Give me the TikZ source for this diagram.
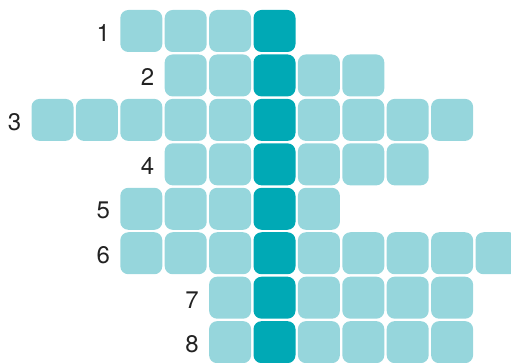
\documentclass[tikz,border=0pt]{standalone}
\usepackage{fontspec}
\setmainfont{TeX Gyre Heros}
\usetikzlibrary{positioning}
\definecolor{celllight}{RGB}{150,214,220}
\definecolor{celldark}{RGB}{0,169,181}
\definecolor{numgray}{RGB}{34,34,34}

\begin{document}
\begin{tikzpicture}[
      x=1pt, y=-1pt,
      cell/.style={rectangle, rounded corners=8pt, fill=celllight, minimum size=42pt, inner sep=0pt},
      key/.style={cell, fill=celldark},
      num/.style={font=\fontsize{24}{26}\selectfont, text=numgray, inner sep=0pt}
    ]
      \useasboundingbox (0,0) rectangle (511,363);

      % row / first column / last column, key column is 5
      \foreach \r/\a/\b in {1/2/5, 2/3/7, 3/0/9, 4/3/8, 5/2/6, 6/2/10, 7/4/9, 8/4/9} {
        \foreach \c in {\a,...,\b} {
          \ifnum\c=5
            \node[key] (c\r-\c) at ({52.5+44.4*\c},{31+44.45*(\r-1)}) {};
          \else
            \node[cell] (c\r-\c) at ({52.5+44.4*\c},{31+44.45*(\r-1)}) {};
          \fi
        }
        \node[num, left=10pt of c\r-\a, yshift=-2pt] (n\r) {\r};
      }
    \end{tikzpicture}
\end{document}
